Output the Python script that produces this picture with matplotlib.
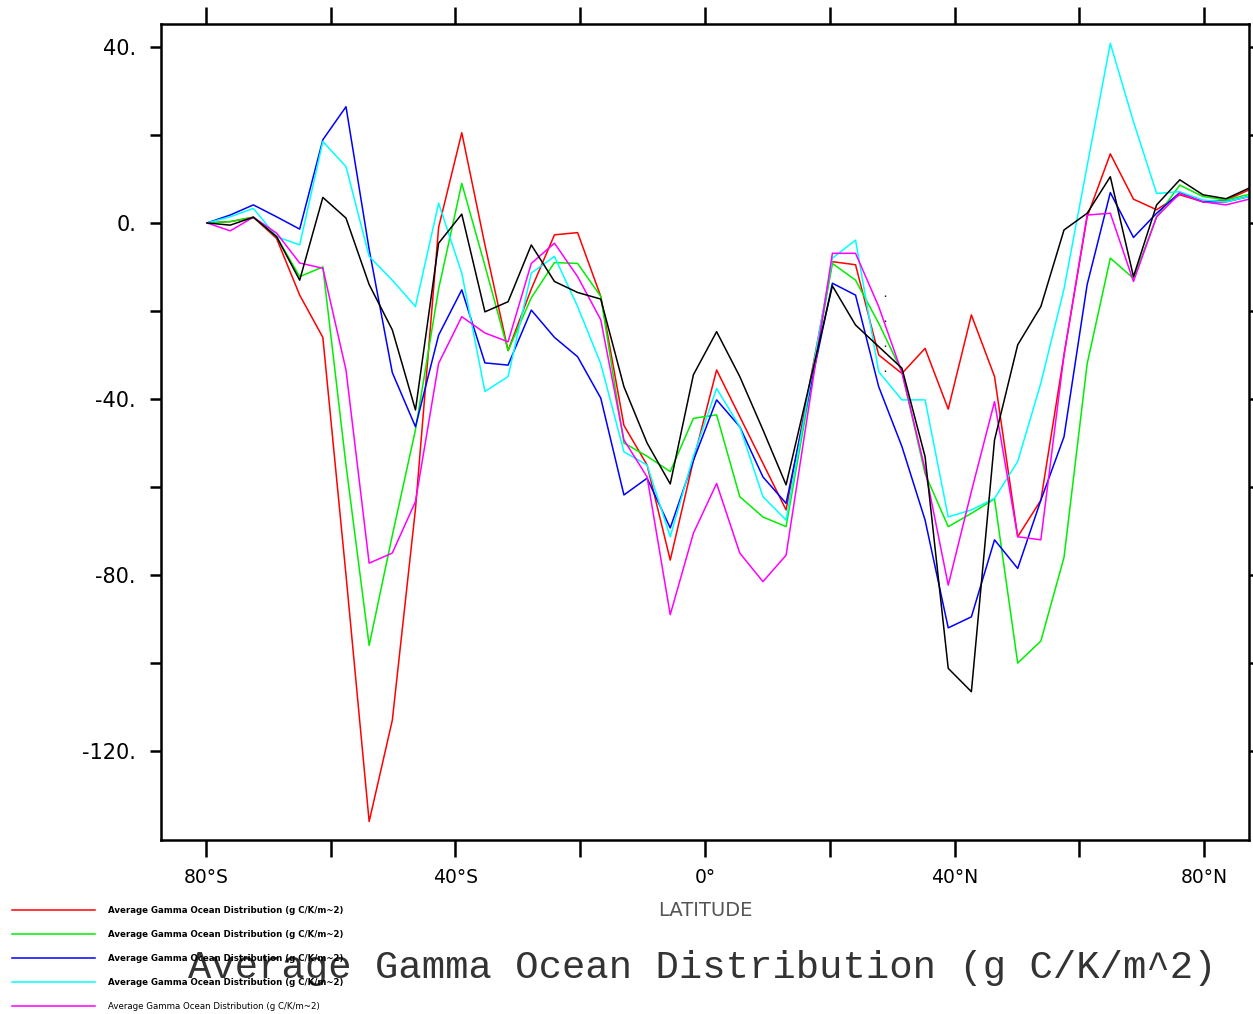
import matplotlib
matplotlib.use("Agg")
import matplotlib.pyplot as plt
from matplotlib.ticker import FixedLocator, FixedFormatter

# Gaussian latitudes (degrees) where the series have values
lat = [-79.78, -76.07, -72.36, -68.65, -64.94, -61.23, -57.52, -53.81, -50.10, -46.39,
       -42.68, -38.97, -35.26, -31.55, -27.83, -24.12, -20.41, -16.70, -12.99, -9.28,
       -5.57, -1.86, 1.86, 5.57, 9.28, 12.99, 16.70, 20.41, 24.12, 27.83,
       31.55, 35.26, 38.97, 42.68, 46.39, 50.10, 53.81, 57.52, 61.23, 64.94,
       68.65, 72.36, 76.07, 79.78, 83.48, 87.16]

red = [0, 0.3, 1.3, -3.5, -16.4, -26, -80, -136, -113, -65,
       -1, 20.5, -5, -29, -15, -2.7, -2.2, -16.7, -46, -55,
       -76.6, -54, -33.4, -44, -54.6, -65.2, -37, -8.8, -9.5, -30,
       -34.2, -28.5, -42.3, -20.9, -34.9, -71.3, -63, -30, 1.4, 15.7,
       5.4, 3, 6.4, 4.8, 5.2, 7.5]
green = [0, 0.3, 1.3, -3.1, -12.2, -10, -55, -96, -71, -47,
         -15, 9, -9.7, -29, -17, -9, -9.2, -16.7, -50, -53,
         -56.5, -44.4, -43.6, -62.2, -66.8, -69, -39, -9.2, -13, -22.8,
         -33.8, -57, -69, -66, -62.7, -100, -95, -76, -32, -8,
         -12.6, 1.4, 8.6, 6, 5.2, 6.5]
blue = [0, 1.8, 4.1, 1.4, -1.4, 18.9, 26.4, -6, -34, -46.3,
        -25.5, -15.2, -31.8, -32.3, -19.8, -26, -30.4, -39.8, -61.8, -58,
        -69.3, -54, -40.2, -46.3, -57.7, -63.7, -38.7, -13.7, -16.4, -37.2,
        -50.8, -67.5, -92, -89.5, -72, -78.5, -63, -48.6, -14, 6.9,
        -3.3, 2.2, 6.9, 4.8, 4.8, 6]
cyan = [0, 1.4, 3.3, -3.1, -5, 18.5, 12.8, -7.6, -13, -19,
        4.5, -11.4, -38.3, -34.9, -11.4, -7.6, -19, -32, -52, -55,
        -71.3, -53, -37.6, -46.3, -62.2, -67.5, -37.8, -8, -3.9, -33.8,
        -40.2, -40.2, -66.8, -65.2, -62.6, -54.2, -36.4, -15, 13, 40.8,
        23, 6.7, 7.1, 5.2, 4.8, 6]
magenta = [0, -1.8, 1.3, -2.3, -9.1, -10.3, -33.4, -77.3, -75, -63.3,
           -31.9, -21.3, -25, -27, -9.2, -4.6, -12.2, -22, -49.3, -57.7,
           -89, -70.5, -59.2, -75, -81.5, -75.5, -41.2, -6.9, -6.9, -19,
           -34, -56, -82.3, -61, -40.6, -71.3, -72, -30, 1.8, 2.2,
           -13.3, 1.4, 6.7, 4.8, 4.1, 5.4]
black = [0, -0.5, 1.3, -3.1, -13, 5.8, 1.1, -14, -24.3, -42.5,
         -4.6, 2, -20.2, -17.9, -5, -13.3, -15.8, -17.3, -37.2, -50,
         -59.3, -34.5, -24.7, -34.9, -47, -59.5, -36.9, -14.3, -23.2, -28.1,
         -33, -53.1, -101.2, -106.5, -49.3, -27.7, -19, -1.6, 2.2, 10.5,
         -12.2, 4.1, 9.8, 6.4, 5.5, 7.9]

# stray dotted segment seen near 29N
stray_lat = [28.9, 28.9]
stray_val = [-16.4, -38.6]

series_label = "Average Gamma Ocean Distribution (g C/K/m~2)"
title_text = "Average Gamma Ocean Distribution (g C/K/m^2)"
xtick_vals = [-80, -60, -40, -20, 0, 20, 40, 60, 80]
xtick_labels = ["80\u00b0S", "", "40\u00b0S", "", "0\u00b0", "", "40\u00b0N", "", "80\u00b0N"]
ytick_vals = [-120, -100, -80, -60, -40, -20, 0, 20, 40]
ytick_labels = ["-120.", "", "-80.", "", "-40.", "", "0.", "", "40."]

W, H = 1253, 1014
fig = plt.figure(figsize=(W / 100, H / 100), dpi=100)
ax = fig.add_axes([161 / W, 1 - 840 / H, (1249 - 161) / W, (840 - 24) / H])

lw = 1.1
ax.plot(lat, red, color="#ff0000", lw=lw, label=series_label)
ax.plot(lat, green, color="#00ee00", lw=lw, label=series_label)
ax.plot(lat, blue, color="#0000ff", lw=lw, label=series_label)
ax.plot(lat, cyan, color="#00ffff", lw=lw, label=series_label)
ax.plot(lat, magenta, color="#ff00ff", lw=lw, label=series_label)
ax.plot(lat, black, color="#000000", lw=lw)
ax.plot(stray_lat, stray_val, color="#000000", lw=1.0, ls=(0, (1, 17)))

ax.set_xlim(-87.16, 87.16)
ax.set_ylim(-140.2, 45.2)

ax.xaxis.set_major_locator(FixedLocator(xtick_vals))
ax.xaxis.set_major_formatter(FixedFormatter(xtick_labels))
ax.yaxis.set_major_locator(FixedLocator(ytick_vals))
ax.yaxis.set_major_formatter(FixedFormatter(ytick_labels))

ax.tick_params(axis="x", which="major", direction="out", length=12.5, width=1.8,
               top=True, bottom=True, labelsize=13.5, pad=8)
ax.tick_params(axis="y", which="major", direction="out", length=8, width=1.8,
               left=True, right=True, labelsize=15, pad=10)
for s in ax.spines.values():
    s.set_linewidth(1.8)

ax.set_xlabel("LATITUDE", fontsize=14, color="#555555", labelpad=10)

leg = fig.legend(loc="upper left", bbox_to_anchor=(12 / W, 1 - 906 / H),
                 frameon=False, fontsize=6.2, handlelength=9.6, handletextpad=1.6,
                 labelspacing=1.75, borderpad=0, borderaxespad=0)
for i, t in enumerate(leg.get_texts()):
    t.set_fontweight("bold" if i < 4 else "normal")

fig.text(702 / W, 1 - 968 / H, title_text, fontsize=28, family="Liberation Mono",
         color="#333333", ha="center", va="center")

fig.savefig("out.png", dpi=100)
